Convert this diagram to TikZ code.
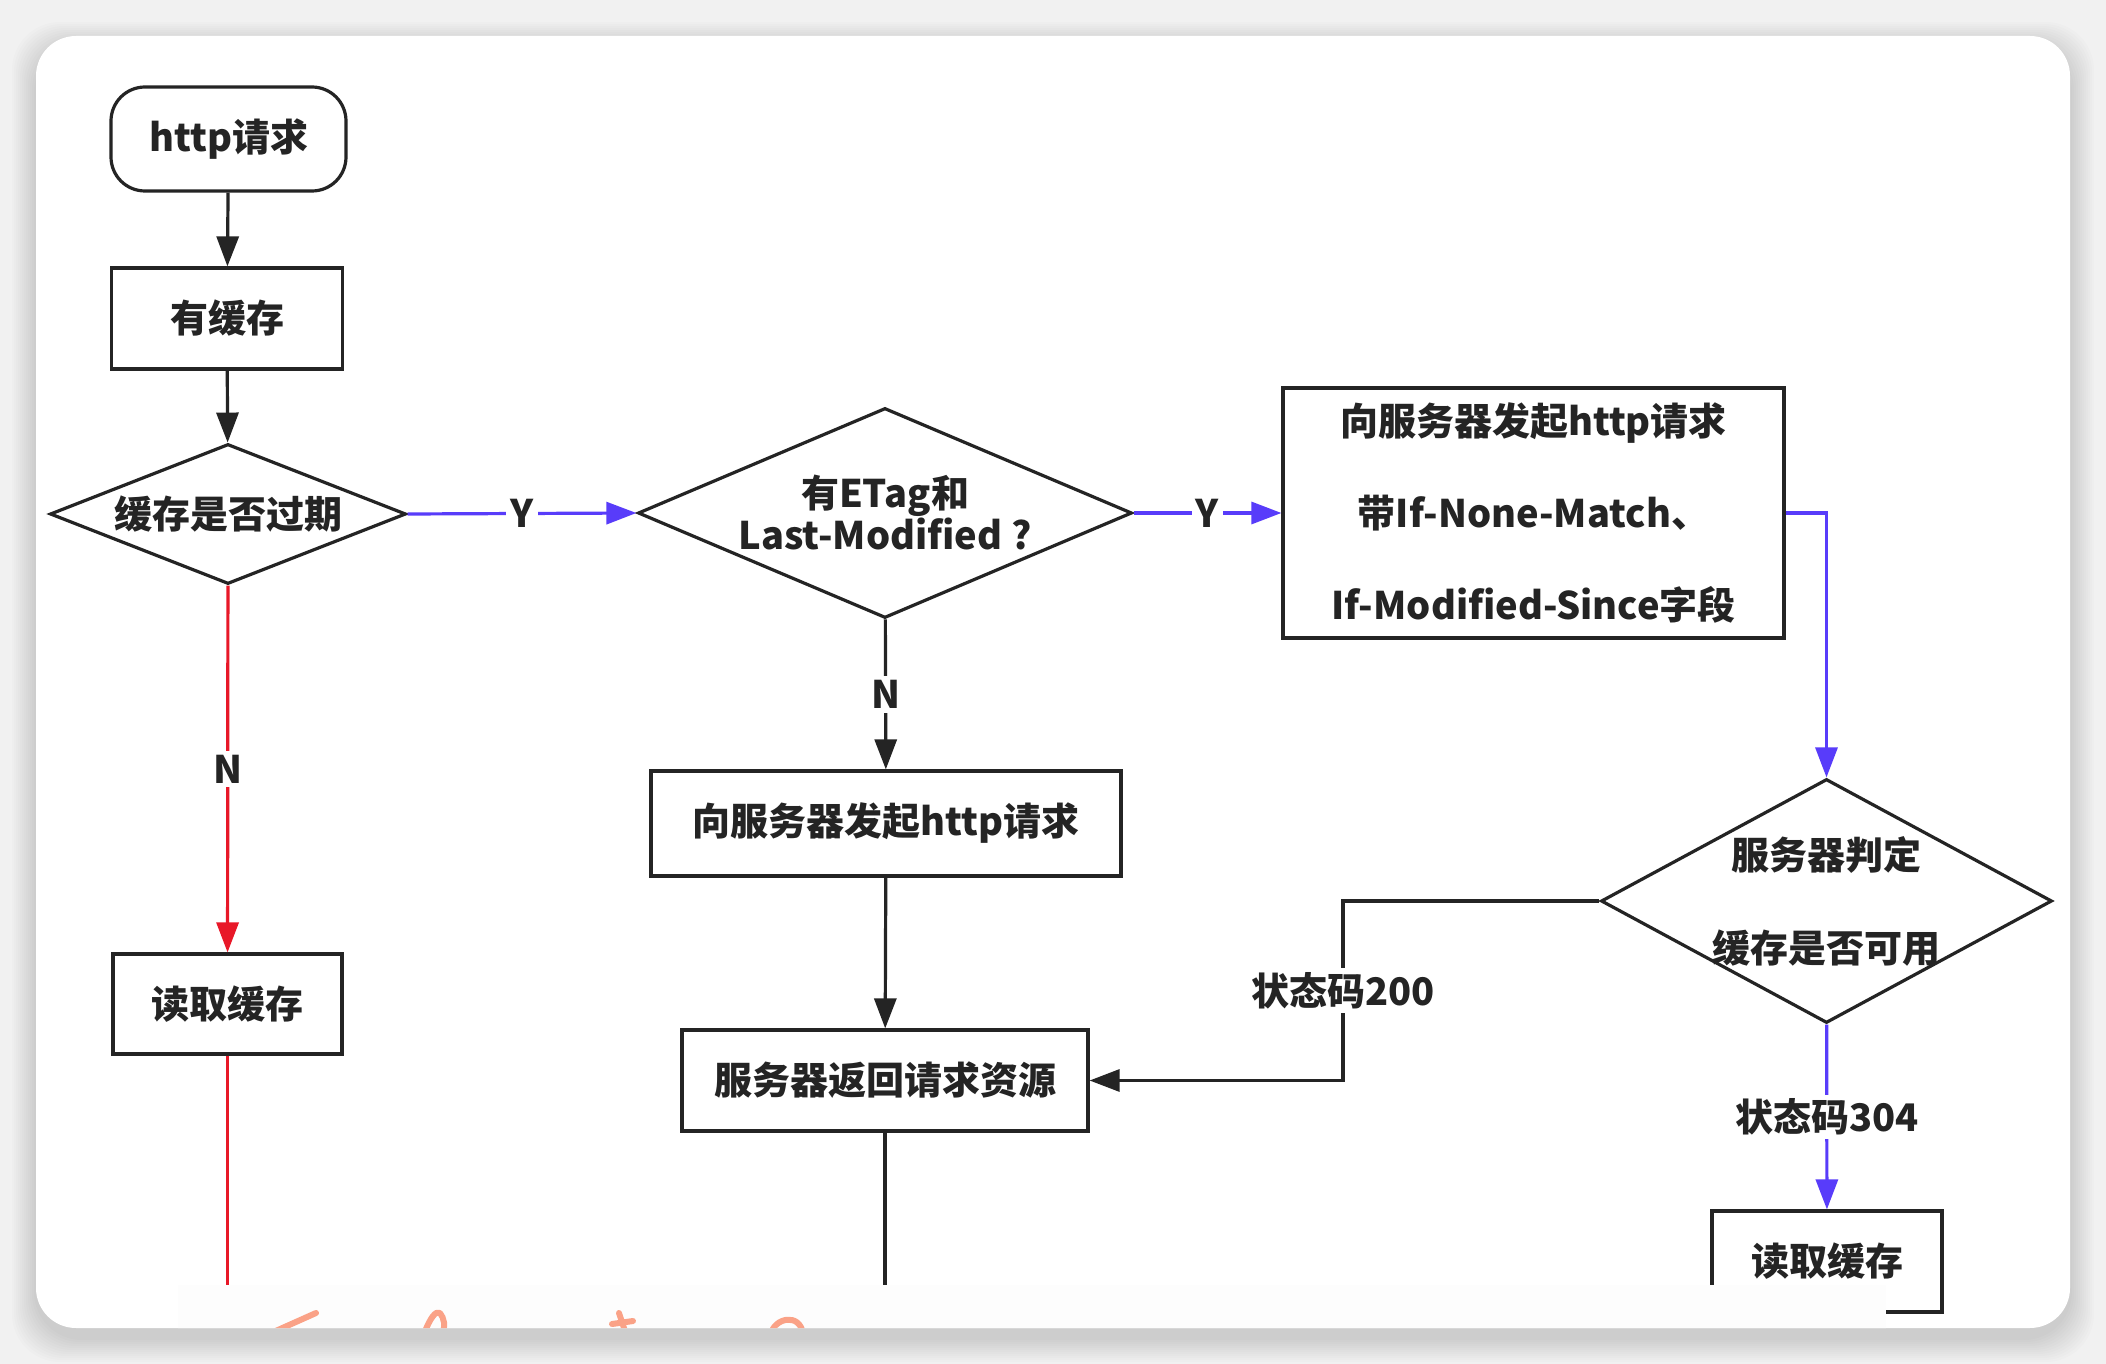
\documentclass[tikz,border=0pt]{standalone}
\usepackage{fontspec}
\setmainfont{Noto Sans CJK SC}
\usetikzlibrary{arrows.meta,shapes.geometric}
\definecolor{bl}{RGB}{88,60,250}
\definecolor{rd}{RGB}{232,24,40}
\definecolor{ln}{RGB}{36,36,36}
\definecolor{hw}{RGB}{250,162,135}
\definecolor{bg}{RGB}{241,241,241}
\definecolor{ov}{RGB}{253,253,253}
\begin{document}
\begin{tikzpicture}[x=0.5pt,y=-0.5pt,
  every node/.style={font=\fontsize{19}{23}\selectfont\bfseries, text=ln},
  box/.style={draw=ln, line width=1.6pt, fill=white, rectangle, inner sep=0pt},
  term/.style={box, rounded corners=17pt},
  dia/.style={draw=ln, line width=1.6pt, fill=white, diamond, inner sep=0pt},
  conn/.style={draw=ln, line width=1.6pt},
  arr/.style={conn, -{Triangle[length=15pt,width=11pt]}},
  barr/.style={draw=bl, line width=1.6pt, -{Triangle[length=15pt,width=11pt]}},
  rarr/.style={draw=rd, line width=1.6pt, -{Triangle[length=15pt,width=11pt]}},
  lbl/.style={fill=white, inner sep=2pt},
  hand/.style={draw=hw, line width=3pt, line cap=round, line join=round}
]
\useasboundingbox (0,0) rectangle (2106,1364);
\fill[bg] (0,0) rectangle (2106,1364);
% shadow
\foreach \i in {2,4,...,24}{
  \fill[black, opacity=0.012, rounded corners=24pt] (36-\i,36-\i+10) rectangle (2070+\i,1328+\i+10);
}
% card
\fill[white, rounded corners=20pt] (36,36) rectangle (2070,1328);

% nodes
\node[term, minimum width=117.5pt, minimum height=52pt] (start) at (228.5,139) {http请求};
\node[box, minimum width=115.5pt, minimum height=50.5pt] (has) at (227,318.5) {有缓存};
\node[dia, minimum width=178pt, minimum height=70pt, label={center:缓存是否过期}] (d1) at (228,514) {};
\node[dia, minimum width=247pt, minimum height=105pt,
  label={[align=center, font=\fontsize{19}{21}\selectfont\bfseries]center:有ETag和\\Last-Modified ?}] (etag) at (885,513) {};
\node[box, minimum width=250.5pt, minimum height=125pt, align=center,
  font=\fontsize{19}{46}\selectfont\bfseries] (req1) at (1533.5,513)
  {向服务器发起http请求\\带If-None-Match、\\If-Modified-Since字段};
\node[box, minimum width=235pt, minimum height=52.5pt] (req2) at (886,823.5) {向服务器发起http请求};
\node[box, minimum width=203pt, minimum height=50.5pt] (ret) at (885,1080.5) {服务器返回请求资源};
\node[box, minimum width=114.5pt, minimum height=50pt] (read1) at (227.5,1004) {读取缓存};
\node[dia, minimum width=225.5pt, minimum height=122pt,
  label={[align=center, font=\fontsize{19}{46.5}\selectfont\bfseries]center:服务器判定\\缓存是否可用}] (judge) at (1826.5,901) {};
\node[box, minimum width=115pt, minimum height=50.5pt] (read2) at (1827,1261.5) {读取缓存};

\coordinate (e1) at (227.5,1310);
\coordinate (e2) at (885,1310);
\coordinate (c1) at (1343,901);

% connectors
\draw[arr] (start) -- (has);
\draw[arr] (has) -- (d1);
\draw[rarr] (d1) -- node[lbl]{N} (read1);
\draw[draw=rd, line width=1.6pt] (read1) -- (e1);
\draw[barr] (d1.east) -- node[lbl]{Y} (etag.west);
\draw[barr] (etag.east) -- node[lbl]{Y} (req1.west);
\draw[arr] (etag) -- node[lbl]{N} (req2);
\draw[arr] (req2) -- (ret);
\draw[conn] (ret) -- (e2);
\draw[barr] (req1.east) -| (judge.north);
\draw[arr] (judge.west) -- (c1) |- node[lbl, pos=0.25]{状态码200} (ret.east);
\draw[barr] (judge) -- node[lbl]{状态码304} (read2);

% bottom overlay and handwriting (clipped to card)
\begin{scope}
  \clip[rounded corners=20pt] (36,36) rectangle (2070,1328);
  \fill[ov] (178,1285) rectangle (1886,1340);
  \draw[hand] (269,1334) -- (316,1313);
  \draw[hand] (424,1334) .. controls (430,1318) and (436,1310) .. (440,1313)
                         .. controls (444,1318) and (446,1326) .. (442,1334);
  \draw[hand] (619,1313) -- (626,1334);
  \draw[hand] (612,1324) -- (633,1321);
  \draw[hand] (771,1334) .. controls (774,1318) and (800,1312) .. (803,1334);
\end{scope}
\end{tikzpicture}
\end{document}
